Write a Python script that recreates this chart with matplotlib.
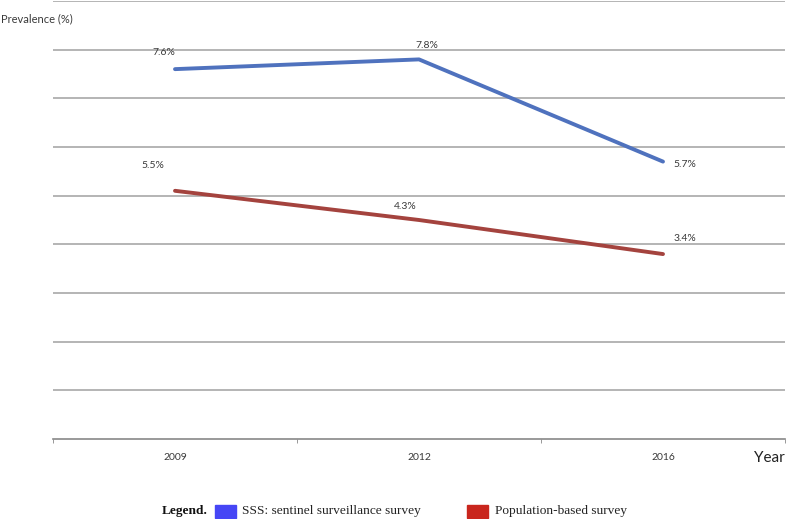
import matplotlib
matplotlib.use("Agg")
import matplotlib.pyplot as plt
from matplotlib.patches import Rectangle

# --- data ---
years = ["2009", "2012", "2016"]
sss_values = [7.6, 7.8, 5.7]
sss_labels = ["7.6%", "7.8%", "5.7%"]
pop_values = [5.1, 4.5, 3.8]  # plotted heights as they appear in the reference
pop_labels = ["5.5%", "4.3%", "3.4%"]

blue = "#4f72be"
red = "#a4433e"
grid_grey = "#b4b4b4"
text_grey = "#3a3a3a"


def main():
    plt.rcParams["font.family"] = ["Lato", "DejaVu Sans"]

    fig = plt.figure(figsize=(7.87, 5.19), dpi=100)
    ax = fig.add_axes([53 / 787, 80 / 519, 732 / 787, 438 / 519])

    x = list(range(len(years)))
    ax.plot(x, sss_values, color=blue, lw=2.8, solid_capstyle="round", zorder=3)
    ax.plot(x, pop_values, color=red, lw=2.8, solid_capstyle="round", zorder=3)

    # data labels (offsets in points)
    sss_off = [(-8, 12), (6, 10), (16, -2)]
    pop_off = [(-16, 18), (-10, 10), (16, 11)]
    for i in x:
        ax.annotate(sss_labels[i], (x[i], sss_values[i]), xytext=sss_off[i],
                    textcoords="offset points", ha="center", va="center",
                    fontsize=7.5, color=text_grey)
        ax.annotate(pop_labels[i], (x[i], pop_values[i]), xytext=pop_off[i],
                    textcoords="offset points", ha="center", va="center",
                    fontsize=7.5, color=text_grey)

    ax.set_xlim(-0.5, len(years) - 0.5)
    ax.set_ylim(0, 9)

    # horizontal gridlines, no y tick labels
    ax.set_yticks(range(1, 10))
    ax.yaxis.grid(True, color=grid_grey, lw=1.4)
    ax.tick_params(axis="y", left=False, labelleft=False)

    # category axis: labels at centres, tick marks at boundaries
    ax.set_xticks(x)
    ax.set_xticklabels(years, fontsize=7.5, color=text_grey)
    ax.tick_params(axis="x", length=0, pad=10)
    ax.set_xticks([i - 0.5 for i in range(len(years) + 1)], minor=True)
    ax.tick_params(axis="x", which="minor", length=3, color="#888888", direction="out")

    for side in ["top", "right", "left"]:
        ax.spines[side].set_visible(False)
    ax.spines["bottom"].set_color("#888888")
    ax.spines["bottom"].set_linewidth(1.2)

    fig.text(1 / 787, 1 - 19 / 519, "Prevalence (%)", fontsize=8, color=text_grey,
             ha="left", va="center")
    fig.text(785 / 787, 1 - 458 / 519, "Year", fontsize=11, color="#222222",
             ha="right", va="center")

    # legend row at the bottom
    serif = ["Liberation Serif", "DejaVu Serif"]
    ly = 1 - 511 / 519
    fig.text(162 / 787, ly, "Legend.", fontsize=9.6, fontweight="bold",
             family=serif, ha="left", va="center", color="#111111")
    fig.patches.append(Rectangle((215 / 787, 1 - 518 / 519), 21 / 787, 13 / 519,
                                 transform=fig.transFigure, color="#4646f5"))
    fig.text(242 / 787, ly, "SSS: sentinel surveillance survey", fontsize=9.6,
             family=serif, ha="left", va="center", color="#222222")
    fig.patches.append(Rectangle((467 / 787, 1 - 518 / 519), 21 / 787, 13 / 519,
                                 transform=fig.transFigure, color="#c9261d"))
    fig.text(495 / 787, ly, "Population-based survey", fontsize=9.6,
             family=serif, ha="left", va="center", color="#222222")

    fig.savefig("out.png", dpi=100)


if __name__ == "__main__":
    main()
